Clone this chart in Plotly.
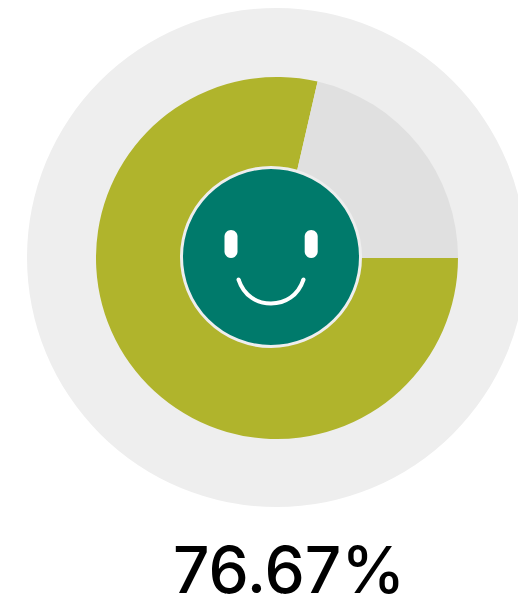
import plotly.graph_objects as go

W, H = 518, 597
slice_labels = ["Filled", "Remainder"]
slice_values = [78.6, 21.4]
slice_colors = ["#b0b42c", "#e0e0e0"]
label_text = "76.67%"


def px(x):
    return x / W


def py(y):
    return 1 - y / H


def circle(cx, cy, r, fill, line=None, width=0, layer="above"):
    return dict(type="circle", xref="paper", yref="paper", layer=layer,
                x0=px(cx - r), x1=px(cx + r), y0=py(cy + r), y1=py(cy - r),
                fillcolor=fill, line=dict(color=line or fill, width=width))


def pt(x, y):
    return f"{px(x):.5f},{py(y):.5f}"


def eye(x0, x1, y0, y1):
    r = (x1 - x0) / 2
    xm = (x0 + x1) / 2
    path = (f"M{pt(x0, y0 + r)} C{pt(x0, y0 + r * .45)} {pt(xm - r * .55, y0)} {pt(xm, y0)} "
            f"C{pt(xm + r * .55, y0)} {pt(x1, y0 + r * .45)} {pt(x1, y0 + r)} "
            f"L{pt(x1, y1 - r)} C{pt(x1, y1 - r * .45)} {pt(xm + r * .55, y1)} {pt(xm, y1)} "
            f"C{pt(xm - r * .55, y1)} {pt(x0, y1 - r * .45)} {pt(x0, y1 - r)} Z")
    return dict(type="path", xref="paper", yref="paper", path=path,
                fillcolor="white", line=dict(width=0))


smile = dict(type="path", xref="paper", yref="paper",
             path=f"M{pt(238.5, 279.5)} C{pt(244, 296)} {pt(257, 303.5)} {pt(271, 303.5)} "
                  f"C{pt(285, 303.5)} {pt(298, 296)} {pt(303.5, 279.5)}",
             line=dict(color="white", width=4))

fig = go.Figure(go.Pie(
    labels=slice_labels, values=slice_values, sort=False, direction="clockwise",
    rotation=90, textinfo="none", hoverinfo="skip", showlegend=False,
    marker=dict(colors=slice_colors, line=dict(width=0)),
    domain=dict(x=[px(96), px(458)], y=[py(439), py(77)]),
))

fig.update_layout(
    width=W, height=H, margin=dict(l=0, r=0, t=0, b=0),
    paper_bgcolor="white", plot_bgcolor="white", showlegend=False,
    shapes=[
        circle(276.5, 257.5, 249.5, "#eeeeee", layer="below"),
        circle(271, 257, 89.5, "#007a6b", line="#eeeeee", width=3),
        eye(224.5, 237.5, 230, 258),
        eye(304.7, 317.7, 230, 258),
        smile,
        circle(238.5, 279.5, 2, "white"),
        circle(303.5, 279.5, 2, "white"),
    ],
    annotations=[dict(
        text=label_text, xref="paper", yref="paper", x=px(289), y=py(569.5),
        xanchor="center", yanchor="middle", showarrow=False,
        font=dict(family="Inter", size=64, color="black", weight=500),
    )],
)

fig.write_html("out.html", config=dict(displayModeBar=False, responsive=False),
               post_script="document.body.style.margin='0';document.documentElement.style.overflow='hidden';")
